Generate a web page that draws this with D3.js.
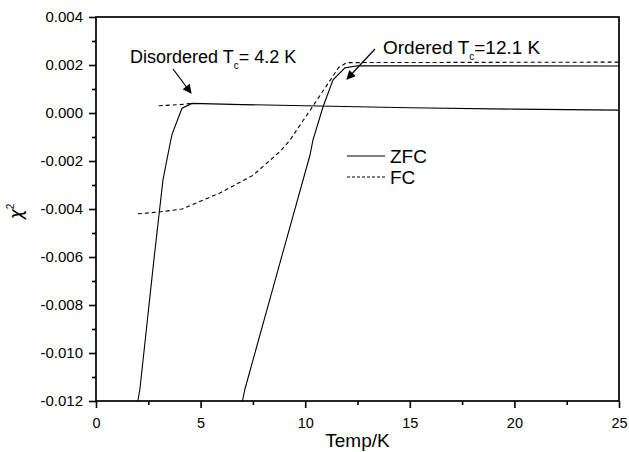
<!DOCTYPE html>
<html>
<head>
<meta charset="utf-8">
<script src="https://cdn.jsdelivr.net/npm/d3@7"></script>
<style>
  body { margin: 0; background: #fff; }
  svg { display: block; font-family: "Liberation Sans", Arial, sans-serif; }
</style>
</head>
<body>
<div id="chart"></div>
<script>
// values: [Temp (K), chi]
const disZfc = [[2.0, -0.012], [2.1, -0.0115], [2.77, -0.0061], [3.2, -0.0028], [3.49, -0.0015],
    [3.63, -0.0009], [4.11, 0.0002], [4.59, 0.0004], [7, 0.00035], [10, 0.0003], [15, 0.00022],
    [20, 0.00016], [25, 0.00012]];
const disFc = [[3.0, 0.0003], [4.0, 0.00035], [4.59, 0.0004]];
const ordZfc = [[7.0, -0.012], [7.12, -0.0115], [8.84, -0.0061], [10.23, -0.00175], [10.37, -0.00113],
    [10.85, 0.00025], [11.33, 0.00138], [11.9, 0.00188], [12.5, 0.00197], [25, 0.00196]];
const ordFc = [[2.0, -0.0042], [2.96, -0.00413], [4.11, -0.004], [5.93, -0.00333], [7.5, -0.0026],
    [8.8, -0.0016], [9.27, -0.00113], [10.4, 0.00033], [11.3, 0.0015], [11.6, 0.0019],
    [12.0, 0.0021], [25, 0.00212]];

const xTicks = [0, 5, 10, 15, 20, 25];
const yTicks = [0.004, 0.002, 0, -0.002, -0.004, -0.006, -0.008, -0.010, -0.012];

const width = 629, height = 452,
    margin = ({ top: 17, right: 10, bottom: 51, left: 96 });

const svg = d3.select("#chart").append("svg")
    .attr("width", width)
    .attr("height", height);

const x = d3.scaleLinear().domain([0, 25]).range([margin.left, width - margin.right]);
const y = d3.scaleLinear().domain([-0.012, 0.004]).range([height - margin.bottom, margin.top]);

// frame
svg.append("rect")
    .attr("x", margin.left).attr("y", margin.top)
    .attr("width", x(25) - x(0)).attr("height", y(-0.012) - y(0.004))
    .attr("fill", "none").attr("stroke", "#000").attr("stroke-width", 1.7);

// minor ticks
const xMinor = d3.range(2.5, 25, 5);
const yMinor = d3.range(-0.011, 0.004, 0.002);

svg.append("g")
    .attr("transform", `translate(0,${y(-0.012)})`)
    .call(d3.axisBottom(x).tickValues(xMinor).tickSize(4).tickFormat(""))
    .call(g => g.select(".domain").remove())
    .selectAll("line").attr("stroke-width", 1.6);

svg.append("g")
    .attr("transform", `translate(${x(0)},0)`)
    .call(d3.axisLeft(y).tickValues(yMinor).tickSize(4).tickFormat(""))
    .call(g => g.select(".domain").remove())
    .selectAll("line").attr("stroke-width", 1.6);

// major axes
const xAxis = svg.append("g")
    .attr("transform", `translate(0,${y(-0.012)})`)
    .call(d3.axisBottom(x).tickValues(xTicks).tickSize(7).tickPadding(10).tickFormat(d3.format("d")));
xAxis.select(".domain").remove();
xAxis.selectAll("line").attr("stroke-width", 1.6);
xAxis.selectAll("text").attr("font-size", 14.5).attr("font-family", "Liberation Sans, Arial, sans-serif");

const yAxis = svg.append("g")
    .attr("transform", `translate(${x(0)},0)`)
    .call(d3.axisLeft(y).tickValues(yTicks).tickSize(7).tickPadding(6).tickFormat(d3.format(".3f")));
yAxis.select(".domain").remove();
yAxis.selectAll("line").attr("stroke-width", 1.6);
yAxis.selectAll("text").attr("font-size", 15).attr("font-family", "Liberation Sans, Arial, sans-serif")
    .text(d => d3.format(".3f")(d).replace("−", "-"));

// axis titles
svg.append("text")
    .attr("x", (x(0) + x(25)) / 2)
    .attr("y", 447)
    .attr("text-anchor", "middle")
    .attr("font-size", 19)
    .text("Temp/K");

const yl = svg.append("text")
    .attr("transform", `translate(22,${y(-0.0041)}) rotate(-90)`)
    .attr("text-anchor", "middle")
    .attr("font-size", 17)
    .attr("font-family", "DejaVu Sans, sans-serif")
    .attr("font-style", "italic");
yl.append("tspan").text("χ");
yl.append("tspan").attr("font-size", 10).attr("dy", -8).attr("font-style", "normal")
    .attr("font-family", "Liberation Sans, Arial, sans-serif").text("2");

// curves
const line = d3.line().x(d => x(d[0])).y(d => y(d[1]));

const curves = [
    { data: disZfc, dash: null },
    { data: ordZfc, dash: null },
    { data: disFc, dash: "4,3" },
    { data: ordFc, dash: "4,3" }
];

svg.selectAll(".curve")
    .data(curves)
    .join("path")
    .attr("class", "curve")
    .attr("d", d => line(d.data))
    .attr("fill", "none")
    .attr("stroke", "#000")
    .attr("stroke-width", 1.1)
    .attr("stroke-dasharray", d => d.dash);

// legend
const legend = [["ZFC", null], ["FC", "3,2"]];
const lg = svg.selectAll(".legend")
    .data(legend)
    .join("g")
    .attr("class", "legend")
    .attr("transform", (d, i) => `translate(347,${156 + i * 21})`);
lg.append("line")
    .attr("x1", 0).attr("x2", 38)
    .attr("stroke", "#000").attr("stroke-width", 1)
    .attr("stroke-dasharray", d => d[1]);
lg.append("text")
    .attr("x", 43).attr("dy", "0.35em")
    .attr("font-size", 19)
    .text(d => d[0]);

// annotations
svg.append("defs").append("marker")
    .attr("id", "arrow")
    .attr("viewBox", "0 0 10 10")
    .attr("refX", 9).attr("refY", 5)
    .attr("markerWidth", 10).attr("markerHeight", 9)
    .attr("markerUnits", "userSpaceOnUse")
    .attr("orient", "auto")
    .append("path").attr("d", "M0,0 L10,5 L0,10 Z").attr("fill", "#000");

function annot(tx, ty, label, val, x1, y1, x2, y2, fs) {
    const t = svg.append("text").attr("x", tx).attr("y", ty).attr("font-size", fs);
    t.append("tspan").text(label);
    t.append("tspan").attr("font-size", 10).attr("dy", 6).text("c");
    t.append("tspan").attr("dy", -6).text(val);
    svg.append("line")
        .attr("x1", x1).attr("y1", y1).attr("x2", x2).attr("y2", y2)
        .attr("stroke", "#000").attr("stroke-width", 1.2)
        .attr("marker-end", "url(#arrow)");
}
annot(130, 63, "Disordered T", "= 4.2 K", 173, 69, 191, 93, 18);
annot(383, 54, "Ordered T", "=12.1 K", 375, 49, 347, 79, 19);
</script>
</body>
</html>
